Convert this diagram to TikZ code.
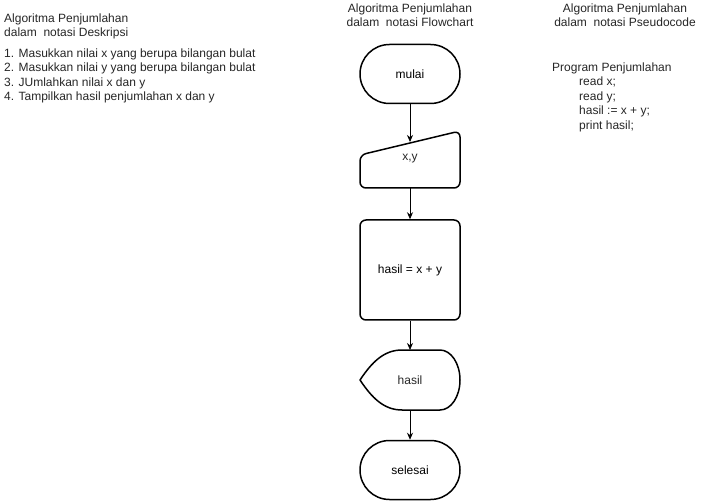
\documentclass[tikz,border=0pt]{standalone}
\usepackage{fontspec}
\setmainfont{Liberation Sans}
\usetikzlibrary{arrows.meta}
\begin{document}
\begin{tikzpicture}[x=1pt,y=-1pt,
  txt/.style={inner sep=0pt, font=\fontsize{12}{14.5}\selectfont, text=black!85},
  shapeline/.style={draw=black, line width=1.5pt, line join=round},
  flow/.style={draw=black, line width=0.8pt, -{Stealth[length=7pt,width=6pt]}},
  term/.style={shapeline, rounded corners=29.5pt, minimum width=100pt, minimum height=59pt, inner sep=0pt, font=\fontsize{12}{14.5}\selectfont},
  proc/.style={shapeline, rounded corners=6pt, minimum width=100pt, minimum height=100pt, inner sep=0pt, font=\fontsize{12}{14.5}\selectfont}
]
\useasboundingbox (0,0) rectangle (701,502);

% ---- description column ----
\node[txt, anchor=north west, align=left] (dtitle) at (4,13.5)
  {Algoritma Penjumlahan\\dalam\ \ notasi Deskripsi};
\node[txt, anchor=north west, align=left] (dsteps) at (4,48.5)
  {1. Masukkan nilai x yang berupa bilangan bulat\\
   2. Masukkan nilai y yang berupa bilangan bulat\\
   3. JUmlahkan nilai x dan y\\
   4. Tampilkan hasil penjumlahan x dan y};

% ---- flowchart column ----
\node[txt, anchor=north, align=center] (ftitle) at (410,3.5)
  {Algoritma Penjumlahan\\dalam\ \ notasi Flowchart};

\node[term] (mulai) at (410,74) {mulai};

% manual input (slanted top)
\coordinate (inTop) at (410,142);
\draw[shapeline, rounded corners=6pt]
  (360,155) -- (360,188) -- (460,188) -- (460,131) -- cycle;
\node[txt] (input) at (410,159) {x,y};

\node[proc] (proses) at (410,270) {hasil = x + y};

% display shape
\draw[shapeline]
  (360,380) .. controls (372,362) and (384,350) .. (402,350)
  -- (440,350) .. controls (451,350) and (460,363.4) .. (460,380)
  .. controls (460,396.6) and (451,410) .. (440,410)
  -- (402,410) .. controls (384,410) and (372,398) .. (360,380) -- cycle;
\coordinate (dispTop) at (410,350);
\coordinate (dispBot) at (410,410);
\node[txt] (display) at (410,380) {hasil};

\node[term] (selesai) at (410,470) {selesai};

\draw[flow] (mulai.south) -- (inTop);
\draw[flow] (410,188) -- (proses.north);
\draw[flow] (proses.south) -- (dispTop);
\draw[flow] (dispBot) -- (selesai.north);

% ---- pseudocode column ----
\node[txt, anchor=north, align=center] (ptitle) at (625,3.5)
  {Algoritma Penjumlahan\\dalam\ \ notasi Pseudocode};
\node[txt, anchor=north west, align=left] (pname) at (552,62.5)
  {Program Penjumlahan};
\node[txt, anchor=north west, align=left] (pbody) at (579,77)
  {read x;\\read y;\\hasil := x + y;\\print hasil;};
\end{tikzpicture}
\end{document}
